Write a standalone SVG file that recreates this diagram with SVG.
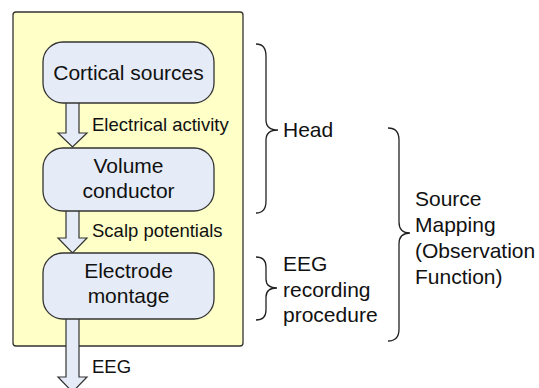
<svg xmlns="http://www.w3.org/2000/svg" width="539" height="388" viewBox="0 0 539 388">
  <style>
    .panel { fill: #ffffc8; stroke: #333; stroke-width: 1.3; }
    .node rect { fill: #e6ecf7; stroke: #333; stroke-width: 1.3; }
    .node text { font-family: "Liberation Sans", Arial, sans-serif; font-size: 21px; fill: #111; text-anchor: middle; }
    .flow { fill: #e6ecf7; stroke: #333; stroke-width: 1.2; stroke-linejoin: miter; }
    .lbl { font-family: "Liberation Sans", Arial, sans-serif; font-size: 18.5px; fill: #111; }
    .brace { fill: none; stroke: #222; stroke-width: 1.3; }
    .blbl { font-family: "Liberation Sans", Arial, sans-serif; font-size: 21px; fill: #111; }
  </style>

  <rect class="panel" x="13" y="12" width="230" height="334" rx="3"/>

  <g id="connectors">
    <polygon class="flow" points="66,100 79,100 79,133 87,133 72.5,147 58,133 66,133"/>
    <text class="lbl" x="92" y="131">Electrical activity</text>
    <polygon class="flow" points="66,208 79,208 79,238 87,238 72.5,253 58,238 66,238"/>
    <text class="lbl" x="92" y="237">Scalp potentials</text>
    <polygon class="flow" points="66,316 79,316 79,377 87,377 72.5,392 58,377 66,377"/>
    <text class="lbl" x="92" y="373">EEG</text>
  </g>

  <g id="cortical-sources" class="node">
    <rect x="43" y="42" width="171" height="61" rx="20"/>
    <text x="128.5" y="80">Cortical sources</text>
  </g>
  <g id="volume-conductor" class="node">
    <rect x="43" y="148" width="171" height="63" rx="20"/>
    <text x="128.5" y="173">Volume</text>
    <text x="128.5" y="198">conductor</text>
  </g>
  <g id="electrode-montage" class="node">
    <rect x="43" y="253" width="171" height="66" rx="20"/>
    <text x="128.5" y="278">Electrode</text>
    <text x="128.5" y="303">montage</text>
  </g>

  <g id="head">
    <path class="brace" d="M256,44 Q266,44 266,56 L266,120 Q266,130 278,130 Q266,130 266,140 L266,201 Q266,213 256,213"/>
    <text class="blbl" x="283" y="137">Head</text>
  </g>
  <g id="eeg-recording">
    <path class="brace" d="M256,257 Q266,257 266,267 L266,279 Q266,288 277,288 Q266,288 266,297 L266,310 Q266,320 256,320"/>
    <text class="blbl" x="283" y="271">EEG</text>
    <text class="blbl" x="283" y="297">recording</text>
    <text class="blbl" x="283" y="322">procedure</text>
  </g>
  <g id="source-mapping">
    <path class="brace" d="M388,128 Q399,128 399,140 L399,222 Q399,233 410,233 Q399,233 399,244 L399,329 Q399,341 388,341"/>
    <text class="blbl" x="415" y="206">Source</text>
    <text class="blbl" x="415" y="232">Mapping</text>
    <text class="blbl" x="415" y="258">(Observation</text>
    <text class="blbl" x="415" y="284">Function)</text>
  </g>
</svg>
